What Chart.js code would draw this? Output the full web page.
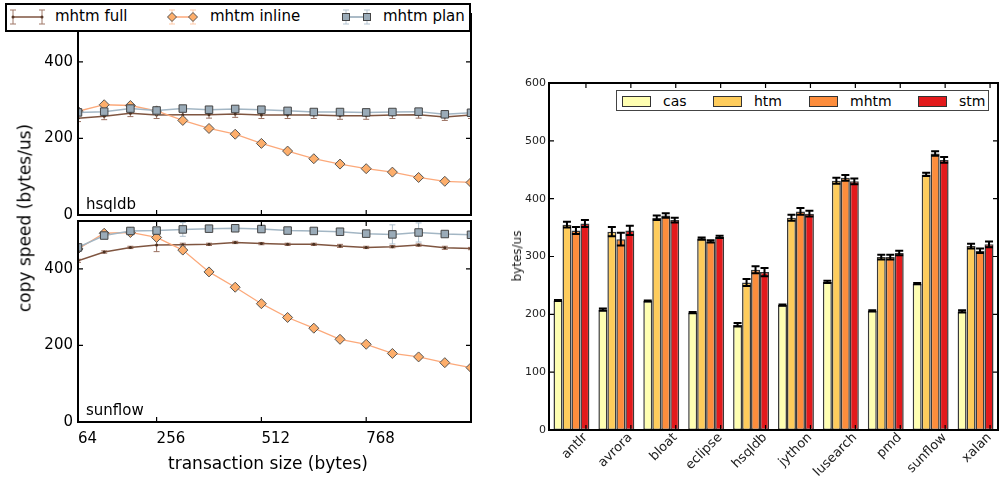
<!DOCTYPE html>
<html><head><meta charset="utf-8">
<script src="https://cdn.jsdelivr.net/npm/chart.js@4.4.0/dist/chart.umd.min.js"></script>
<style>
html,body{margin:0;padding:0;background:#fff;}
body{width:1002px;height:477px;position:relative;overflow:hidden;font-family:"DejaVu Sans",sans-serif;}
.wrap{position:absolute;}
.wrap canvas{display:block;}
.txt{position:absolute;white-space:nowrap;color:#000;line-height:1;}
</style></head><body>
<div class="wrap" style="left:0;top:0;z-index:1"><canvas id="cA" width="480" height="230"></canvas></div>
<div class="wrap" style="left:0;top:200px;z-index:2"><canvas id="cB" width="480" height="277"></canvas></div>
<div class="wrap" style="left:500px;top:70px;z-index:1"><canvas id="cC" width="502" height="407"></canvas></div>

<!-- left legend -->
<div style="position:absolute;left:5px;top:3px;width:462px;height:25px;border:2px solid #000;background:#fff;z-index:5"></div>
<svg style="position:absolute;left:0;top:0;z-index:6" width="480" height="40">
  <g stroke="#a07868" stroke-width="1">
    <line x1="13" y1="10" x2="13" y2="24"/><line x1="10" y1="10" x2="16" y2="10"/><line x1="10" y1="24" x2="16" y2="24"/>
    <line x1="42" y1="10" x2="42" y2="24"/><line x1="39" y1="10" x2="45" y2="10"/><line x1="39" y1="24" x2="45" y2="24"/>
  </g>
  <line x1="13" y1="17" x2="42" y2="17" stroke="#7f5540" stroke-width="1.5"/>
  <circle cx="13" cy="17" r="1.5" fill="#5a3a2a"/><circle cx="42" cy="17" r="1.5" fill="#5a3a2a"/>
  <g stroke="#fdc9a8" stroke-width="1">
    <line x1="172" y1="10" x2="172" y2="24"/><line x1="169" y1="10" x2="175" y2="10"/><line x1="169" y1="24" x2="175" y2="24"/>
    <line x1="193" y1="10" x2="193" y2="24"/><line x1="190" y1="10" x2="196" y2="10"/><line x1="190" y1="24" x2="196" y2="24"/>
  </g>
  <line x1="172" y1="17" x2="193" y2="17" stroke="#fca97a" stroke-width="1.5"/>
  <polygon points="172,12.5 176.5,17 172,21.5 167.5,17" fill="#fdae6b" stroke="#555" stroke-width="1"/>
  <polygon points="193,12.5 197.5,17 193,21.5 188.5,17" fill="#fdae6b" stroke="#555" stroke-width="1"/>
  <g stroke="#b5c5d2" stroke-width="1">
    <line x1="346" y1="10" x2="346" y2="24"/><line x1="343" y1="10" x2="349" y2="10"/><line x1="343" y1="24" x2="349" y2="24"/>
    <line x1="367" y1="10" x2="367" y2="24"/><line x1="364" y1="10" x2="370" y2="10"/><line x1="364" y1="24" x2="370" y2="24"/>
  </g>
  <line x1="346" y1="17" x2="367" y2="17" stroke="#8fa4b4" stroke-width="1.5"/>
  <rect x="342.5" y="13.5" width="7" height="7" fill="#9aabb8" stroke="#444" stroke-width="1"/>
  <rect x="363.5" y="13.5" width="7" height="7" fill="#9aabb8" stroke="#444" stroke-width="1"/>
</svg>
<div class="txt" style="left:55px;top:9px;font-size:15px;z-index:7">mhtm full</div>
<div class="txt" style="left:210px;top:9px;font-size:15px;z-index:7">mhtm inline</div>
<div class="txt" style="left:383px;top:9px;font-size:15px;z-index:7">mhtm plan</div>

<div class="txt" style="left:86px;top:197px;font-size:15px;z-index:8">hsqldb</div>
<div class="txt" style="left:86px;top:403px;font-size:15px;z-index:8">sunflow</div>
<div class="txt" style="left:25px;top:218px;font-size:17px;transform:translate(-50%,-50%) rotate(-90deg);z-index:8">copy speed (bytes/us)</div>
<div class="txt" style="left:268px;top:463px;font-size:17px;transform:translate(-50%,-50%);z-index:8">transaction size (bytes)</div>

<!-- right legend -->
<div style="position:absolute;left:616px;top:90px;width:371px;height:19px;border:1.5px solid #444;background:#fff;z-index:5"></div>
<div style="position:absolute;left:622px;top:96px;width:27px;height:9px;border:1px solid #333;background:#ffffb2;z-index:6"></div>
<div style="position:absolute;left:713px;top:96px;width:27px;height:9px;border:1px solid #333;background:#fecc5c;z-index:6"></div>
<div style="position:absolute;left:809px;top:96px;width:27px;height:9px;border:1px solid #333;background:#fd8d3c;z-index:6"></div>
<div style="position:absolute;left:918px;top:96px;width:27px;height:9px;border:1px solid #333;background:#e31a1c;z-index:6"></div>
<div class="txt" style="left:663px;top:94px;font-size:14px;z-index:7">cas</div>
<div class="txt" style="left:754px;top:94px;font-size:14px;z-index:7">htm</div>
<div class="txt" style="left:850px;top:94px;font-size:14px;z-index:7">mhtm</div>
<div class="txt" style="left:959px;top:94px;font-size:14px;z-index:7">stm</div>
<div class="txt" style="left:517px;top:256px;font-size:12px;color:#222;transform:translate(-50%,-50%) rotate(-90deg);z-index:8">bytes/us</div>

<script>
// ---------- data: left panels ----------
const sizes = [64,128,192,256,320,384,448,512,576,640,704,768,832,896,960,1024];
const xTickVals = [64,256,512,768];
const yTickValsLeft = [0,200,400];

const hsqldbFull      = [253,258,266,261,262,262,264,261,261,261,259,259,261,262,256,261];
const hsqldbFullErr   = [9,9,9,9,9,9,9,9,9,9,9,9,9,9,9,9];
const hsqldbInline    = [271,288,286,272,247,226,211,187,167,147,133,121,112,98,88,85];
const hsqldbInlineErr = [3,3,3,3,3,3,3,3,3,3,3,3,3,3,3,3];
const hsqldbPlan      = [268,270,278,273,278,275,277,275,272,269,269,268,269,270,263,267];
const hsqldbPlanErr   = [4,4,4,4,4,4,4,4,4,4,4,4,4,4,4,4];

const sunflowFull      = [421,444,456,462,463,464,469,466,464,464,460,456,458,462,455,453];
const sunflowFullErr   = [4,3,3,17,4,3,3,3,3,3,4,3,3,3,4,3];
const sunflowInline    = [452,493,495,482,449,392,352,309,273,245,216,203,179,170,155,142];
const sunflowInlineErr = [5,5,5,5,5,5,5,5,5,5,5,5,5,5,5,5];
const sunflowPlan      = [456,487,499,500,503,505,506,504,500,499,497,492,490,495,491,489];
const sunflowPlanErr   = [3,3,3,3,18,3,3,3,3,3,3,3,25,25,3,3];

// ---------- data: right bar chart ----------
const benchmarks = ['antlr','avrora','bloat','eclipse','hsqldb','jython','lusearch','pmd','sunflow','xalan'];
const casVals  = [224,208,223,203,182,216,256,206,253,205];
const casErr   = [1,2,1,1,3,1,2,1,1,2];
const htmVals  = [355,343,367,331,255,367,431,299,442,318];
const htmErr   = [5,8,4,2,6,5,5,4,3,4];
const mhtmVals = [345,330,371,326,277,378,436,299,478,310];
const mhtmErr  = [6,11,4,2,6,6,5,4,4,4];
const stmVals  = [357,345,363,334,273,374,430,306,467,321];
const stmErr   = [6,8,4,2,7,5,5,4,5,5];
const yTickValsRight = [0,100,200,300,400,500,600];

Chart.defaults.font.family = "'DejaVu Sans', sans-serif";
Chart.defaults.animation = false;

function drawErr(chart, i){
  const ds = chart.data.datasets[i];
  const meta = chart.getDatasetMeta(i);
  const ys = chart.scales.y, a = chart.chartArea, ctx = chart.ctx;
  ctx.save();
  ctx.beginPath(); ctx.rect(a.left, a.top, a.right-a.left, a.bottom-a.top); ctx.clip();
  ctx.strokeStyle = ds.errColor; ctx.lineWidth = ds.errWidth;
  meta.data.forEach((el, j) => {
    const d = ds.data[j]; const v = (typeof d === 'object') ? d.y : d;
    const e = ds.errors[j];
    const x = el.x, y1 = ys.getPixelForValue(v - e), y2 = ys.getPixelForValue(v + e), c = ds.errCap;
    ctx.beginPath();
    ctx.moveTo(x, y1); ctx.lineTo(x, y2);
    ctx.moveTo(x - c, y1); ctx.lineTo(x + c, y1);
    ctx.moveTo(x - c, y2); ctx.lineTo(x + c, y2);
    ctx.stroke();
  });
  ctx.restore();
}
const errPlugin = {
  id: 'errbars',
  beforeDatasetDraw(chart, args){ const ds = chart.data.datasets[args.index]; if (ds.errors && !ds.errOnTop) drawErr(chart, args.index); },
  afterDatasetsDraw(chart){ chart.data.datasets.forEach((ds, i) => { if (ds.errors && ds.errOnTop) drawErr(chart, i); }); }
};
function framePlugin(xt, yt, lw, len){
  return { id: 'frame', afterDraw(chart){
    const ctx = chart.ctx, a = chart.chartArea;
    ctx.save();
    ctx.strokeStyle = '#000'; ctx.lineWidth = 1.2;
    ctx.beginPath();
    xt(chart).forEach(px => { ctx.moveTo(px, a.bottom); ctx.lineTo(px, a.bottom - len); ctx.moveTo(px, a.top); ctx.lineTo(px, a.top + len); });
    yt(chart).forEach(py => { ctx.moveTo(a.left, py); ctx.lineTo(a.left + len, py); ctx.moveTo(a.right, py); ctx.lineTo(a.right - len, py); });
    ctx.stroke();
    ctx.lineWidth = lw;
    ctx.strokeRect(a.left, a.top, a.right - a.left, a.bottom - a.top);
    ctx.restore();
  }};
}

function pts(arr){ return sizes.map((s, i) => ({x: s, y: arr[i]})); }

function leftChart(id, full, fullErr, inline, inlineErr, plan, planErr, padTop, xHeight, showX){
  return new Chart(document.getElementById(id), {
    type: 'line',
    data: { datasets: [
      { label:'mhtm full', data: pts(full), errors: fullErr, errColor:'#9a7060', errWidth:1, errCap:3,
        borderColor:'#7f5540', borderWidth:1.5, pointStyle:'circle', pointRadius:1.5, pointBackgroundColor:'#4a3020', pointBorderWidth:0, order:3, clip:0 },
      { label:'mhtm inline', data: pts(inline), errors: inlineErr, errColor:'#fdc4a0', errWidth:1, errCap:3,
        borderColor:'#fca97a', borderWidth:1.3, pointStyle:'rectRot', pointRadius:5, pointBackgroundColor:'#fdae6b', pointBorderColor:'#555', pointBorderWidth:1, order:2, clip:0 },
      { label:'mhtm plan', data: pts(plan), errors: planErr, errColor:'#aebfcc', errWidth:1, errCap:3,
        borderColor:'#a3b6c4', borderWidth:1.5, pointStyle:'rect', pointRadius:5.3, pointBackgroundColor:'#9aabb8', pointBorderColor:'#444', pointBorderWidth:1, order:1, clip:0 }
    ]},
    options: {
      responsive:false, animation:false, events:[],
      layout: { padding: { left:0, right:9, top:padTop, bottom:0 } },
      plugins: { legend:{display:false}, tooltip:{enabled:false} },
      elements: { line: { tension:0 } },
      scales: {
        x: { type:'linear', min:64, max:1024,
             afterBuildTicks: s => { s.ticks = xTickVals.map(v => ({value:v})); },
             afterFit: s => { s.height = xHeight; },
             grid:{display:false, drawTicks:false}, border:{display:false},
             ticks:{display:showX, autoSkip:false, align:'start', padding:8, color:'#000', font:{size:15}, maxRotation:0} },
        y: { min:0, max:525,
             afterBuildTicks: s => { s.ticks = yTickValsLeft.map(v => ({value:v})); },
             afterFit: s => { s.width = 78; },
             grid:{display:false, drawTicks:false}, border:{display:false},
             ticks:{padding:5, color:'#000', font:{size:15}} }
      }
    },
    plugins: [errPlugin, framePlugin(
      c => [256,512,768].map(v => c.scales.x.getPixelForValue(v)),
      c => [200,400].map(v => c.scales.y.getPixelForValue(v)), 2, 5)]
  });
}

leftChart('cA', hsqldbFull, hsqldbFullErr, hsqldbInline, hsqldbInlineErr, hsqldbPlan, hsqldbPlanErr, 14, 15, false);
leftChart('cB', sunflowFull, sunflowFullErr, sunflowInline, sunflowInlineErr, sunflowPlan, sunflowPlanErr, 21, 55, true);

const barCommon = { borderColor:'#3a3a3a', borderWidth:1.5, borderSkipped:false, errColor:'#000', errWidth:2, errCap:4, errOnTop:true };
new Chart(document.getElementById('cC'), {
  type: 'bar',
  data: { labels: benchmarks, datasets: [
    Object.assign({ label:'cas',  data: casVals,  errors: casErr,  backgroundColor:'#ffffb2' }, barCommon),
    Object.assign({ label:'htm',  data: htmVals,  errors: htmErr,  backgroundColor:'#fecc5c' }, barCommon),
    Object.assign({ label:'mhtm', data: mhtmVals, errors: mhtmErr, backgroundColor:'#fd8d3c' }, barCommon),
    Object.assign({ label:'stm',  data: stmVals,  errors: stmErr,  backgroundColor:'#e31a1c' }, barCommon)
  ]},
  options: {
    responsive:false, animation:false, events:[],
    layout: { padding: { left:0, right:4, top:13, bottom:0 } },
    plugins: { legend:{display:false}, tooltip:{enabled:false} },
    datasets: { bar: { categoryPercentage:0.8, barPercentage:1.0 } },
    scales: {
      x: { afterFit: s => { s.height = 47; },
           grid:{display:false, drawTicks:false}, border:{display:false},
           ticks:{autoSkip:false, minRotation:45, maxRotation:45, labelOffset:14, padding:0, color:'#222', font:{size:13}} },
      y: { min:0, max:600,
           afterBuildTicks: s => { s.ticks = yTickValsRight.map(v => ({value:v})); },
           afterFit: s => { s.width = 49; },
           grid:{display:false, drawTicks:false}, border:{display:false},
           ticks:{padding:3, color:'#222', font:{size:11}} }
    }
  },
  plugins: [errPlugin, framePlugin(
    c => benchmarks.map((b, i) => c.scales.x.getPixelForValue(i) + 14.5),
    c => [100,200,300,400,500].map(v => c.scales.y.getPixelForValue(v)), 2, 5)]
});
</script>
</body></html>
